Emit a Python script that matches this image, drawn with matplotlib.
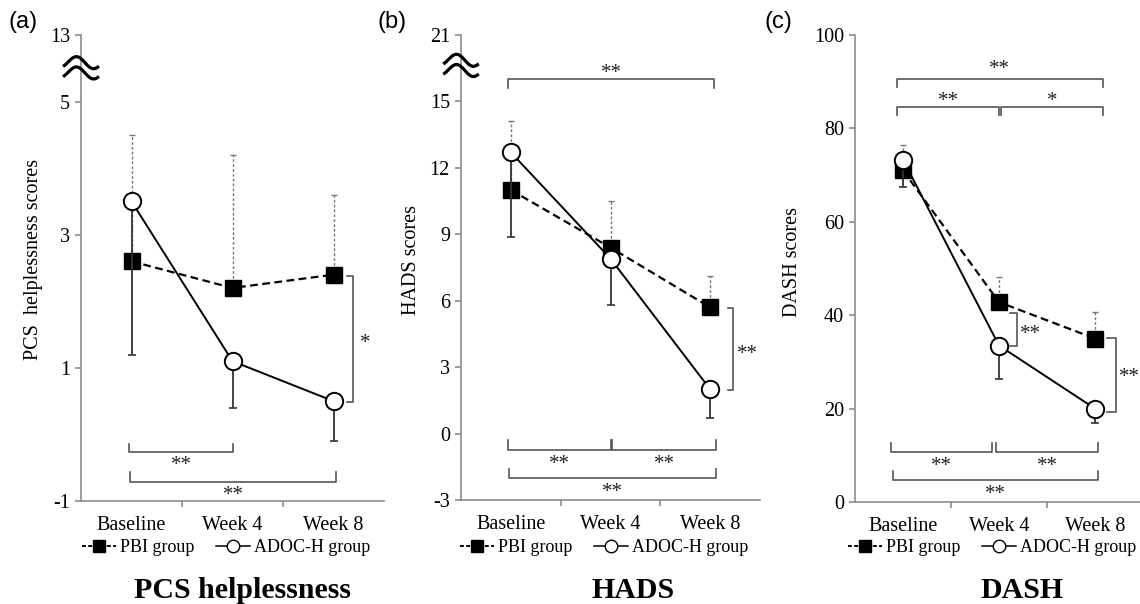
import matplotlib
matplotlib.use("Agg")
import matplotlib.pyplot as plt
from matplotlib.lines import Line2D
import numpy as np

plt.rcParams['font.family'] = ['Liberation Serif', 'DejaVu Serif']

timepoints = ['Baseline', 'Week 4', 'Week 8']

# PCS helplessness
pcs_pbi = [2.6, 2.2, 2.4]
pcs_pbi_err = [1.9, 2.0, 1.2]
pcs_adoc = [3.5, 1.1, 0.5]
pcs_adoc_err = [2.3, 0.7, 0.6]
pcs_ticks = [-1, 1, 3, 5, 6]
pcs_ticklabels = ['-1', '1', '3', '5', '13']

# HADS
hads_pbi = [11.0, 8.4, 5.7]
hads_pbi_err = [3.1, 2.1, 1.4]
hads_adoc = [12.7, 7.9, 2.0]
hads_adoc_err = [3.8, 2.1, 1.3]
hads_ticks = [-3, 0, 3, 6, 9, 12, 15, 18]
hads_ticklabels = ['-3', '0', '3', '6', '9', '12', '15', '21']

# DASH
dash_pbi = [71.0, 42.8, 35.0]
dash_pbi_err = [5.5, 5.4, 5.7]
dash_adoc = [73.3, 33.5, 20.0]
dash_adoc_err = [5.9, 7.2, 3.0]
dash_ticks = [0, 20, 40, 60, 80, 100]
dash_ticklabels = ['0', '20', '40', '60', '80', '100']

W, H = 1140, 604
fig = plt.figure(figsize=(W / 100, H / 100), dpi=100)

def px_axes(l, r, t, b):
    return fig.add_axes([l / W, 1 - b / H, (r - l) / W, (b - t) / H])

axis_col = '#8c8c8c'
br_col = '#555555'
star_col = '#222222'

def setup(ax, ylim, ticks, labels):
    ax.set_xlim(-0.5, 2.5)
    ax.set_ylim(*ylim)
    for s in ['top', 'right']:
        ax.spines[s].set_visible(False)
    for s in ['left', 'bottom']:
        ax.spines[s].set_color(axis_col)
        ax.spines[s].set_linewidth(1.2)
    ax.set_yticks(ticks)
    ax.set_yticklabels(labels)
    ax.set_xticks([0.5, 1.5])
    ax.set_xticklabels([])
    ax.set_xticks([0, 1, 2], minor=True)
    ax.set_xticklabels(timepoints, minor=True)
    ax.tick_params(axis='y', length=4, width=1.2, color=axis_col, pad=4, labelsize=14.5)
    ax.tick_params(axis='x', which='major', length=4, width=1.2, color=axis_col)
    ax.tick_params(axis='x', which='minor', length=0, pad=11, labelsize=14.5)

def draw_groups(ax, pbi, pbi_err, adoc, adoc_err):
    x = np.arange(3)
    e1 = ax.errorbar(x, pbi, yerr=[np.zeros(3), pbi_err], fmt='none',
                     ecolor='#777777', elinewidth=1.0, capsize=2.5, capthick=1.0, zorder=2)
    e1[2][0].set_linestyle((0, (2, 1.5)))
    ax.plot(x, pbi, linestyle=(0, (3.5, 2)), color='black', lw=1.6,
            marker='s', markersize=11, markerfacecolor='black',
            markeredgecolor='black', zorder=3)
    ax.errorbar(x, adoc, yerr=[adoc_err, np.zeros(3)], fmt='none',
                ecolor='#333333', elinewidth=1.3, capsize=3, capthick=1.2, zorder=4)
    ax.plot(x, adoc, linestyle='-', color='black', lw=1.4,
            marker='o', markersize=12.5, markerfacecolor='white',
            markeredgecolor='black', markeredgewidth=1.4, zorder=5)

def bracket(ax, x0, x1, y, h, text, ty, size=15):
    ax.plot([x0, x0, x1, x1], [y + h, y, y, y + h], color=br_col, lw=1.2,
            clip_on=False, zorder=1)
    if text:
        ax.text((x0 + x1) / 2, ty, text, ha='center', va='center',
                fontsize=size, color=star_col)

def side_bracket(ax, xs, x, y0, y1, text, tx, ty, size=15):
    ax.plot([xs, x, x, xs], [y0, y0, y1, y1], color=br_col, lw=1.2,
            clip_on=False, zorder=1)
    ax.text(tx, ty, text, ha='center', va='center', fontsize=size,
            color=star_col, clip_on=False)

def axis_break(ax, yc):
    t = np.linspace(0, 1, 60)
    xs = -0.055 + 0.11 * t
    for dy in (0.011, -0.011):
        ys = yc + dy + 0.012 * (np.sin(2 * np.pi * (t - 0.12)) - 0.3 * (t - 0.5))
        ax.plot(xs, ys, color='black', lw=2.3, transform=ax.transAxes,
                clip_on=False, zorder=6)

# ---- (a) PCS helplessness
ax1 = px_axes(81, 384, 35, 501)
setup(ax1, (-1, 6), pcs_ticks, pcs_ticklabels)
draw_groups(ax1, pcs_pbi, pcs_pbi_err, pcs_adoc, pcs_adoc_err)
axis_break(ax1, 0.93)
side_bracket(ax1, 2.13, 2.19, 2.38, 0.49, '*', 2.31, 1.37)
bracket(ax1, -0.02, 1.0, -0.27, 0.13, '**', -0.47)
bracket(ax1, -0.01, 2.02, -0.71, 0.14, '**', -0.91)

# ---- (b) HADS
ax2 = px_axes(461, 760, 35, 500)
setup(ax2, (-3, 18), hads_ticks, hads_ticklabels)
draw_groups(ax2, hads_pbi, hads_pbi_err, hads_adoc, hads_adoc_err)
axis_break(ax2, 0.935)
bracket(ax2, -0.03, 2.04, 16.0, -0.4, '**', 16.25)
side_bracket(ax2, 2.18, 2.23, 5.68, 1.95, '**', 2.37, 3.55)
bracket(ax2, -0.03, 1.0, -0.72, 0.42, '**', -1.4)
bracket(ax2, 1.02, 2.06, -0.72, 0.42, '**', -1.4)
bracket(ax2, -0.02, 2.06, -2.0, 0.4, '**', -2.65)

# ---- (c) DASH
ax3 = px_axes(855, 1143, 35, 502)
setup(ax3, (0, 100), dash_ticks, dash_ticklabels)
draw_groups(ax3, dash_pbi, dash_pbi_err, dash_adoc, dash_adoc_err)
bracket(ax3, -0.06, 2.08, 90.5, -1.7, '**', 92.7)
bracket(ax3, -0.06, 1.0, 84.5, -1.7, '**', 85.8)
bracket(ax3, 1.02, 2.08, 84.5, -1.7, '*', 85.8)
side_bracket(ax3, 1.11, 1.19, 40.4, 33.4, '**', 1.33, 35.8)
side_bracket(ax3, 2.125, 2.22, 35.1, 19.3, '**', 2.36, 26.6)
bracket(ax3, -0.125, 0.93, 10.7, 1.9, '**', 7.6)
bracket(ax3, 0.97, 2.03, 10.7, 1.9, '**', 7.6)
bracket(ax3, -0.10, 2.03, 4.7, 1.9, '**', 1.7)

# legends
handles = [Line2D([], [], color='black', linestyle=(0, (2, 1.2)), lw=1.4,
                  marker='s', markersize=8, markerfacecolor='black'),
           Line2D([], [], color='black', linestyle='-', lw=1.1,
                  marker='o', markersize=9, markerfacecolor='white')]
names = ['PBI group', 'ADOC-H group']
for ax, cx in [(ax1, 226), (ax2, 604), (ax3, 992)]:
    ax.legend(handles, names, loc='center', bbox_to_anchor=(cx / W, 1 - 548 / H),
              bbox_transform=fig.transFigure, ncol=2, frameon=False,
              fontsize=13, handlelength=1.9, handletextpad=0.2,
              columnspacing=1.2, borderpad=0)

# y labels
fig.text(34 / W, 1 - 259 / H, 'PCS  helplessness scores', rotation=90,
         ha='center', va='center', fontsize=14.5)
fig.text(411 / W, 1 - 260 / H, 'HADS scores', rotation=90,
         ha='center', va='center', fontsize=14.5)
fig.text(792 / W, 1 - 262 / H, 'DASH scores', rotation=90,
         ha='center', va='center', fontsize=14.5)

# panel titles
for cx, t in [(243, 'PCS helplessness'), (633, 'HADS'), (1022, 'DASH')]:
    fig.text(cx / W, 1 - 590 / H, t, ha='center', va='center',
             fontsize=21.5, fontweight='bold')

# panel letters
for cx, t in [(23, '(a)'), (392, '(b)'), (778, '(c)')]:
    fig.text(cx / W, 1 - 22 / H, t, ha='center', va='center', fontsize=17,
             family=['Liberation Sans', 'DejaVu Sans'])

fig.savefig('out.png', dpi=100)
